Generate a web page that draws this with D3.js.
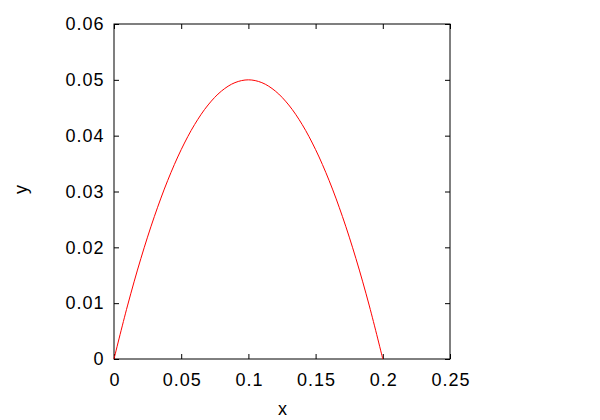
<!DOCTYPE html>
<html><head><meta charset="utf-8">
<script src="https://cdn.jsdelivr.net/npm/d3@7"></script>
<style>body{margin:0;background:#fff}svg text{font-family:"Liberation Sans",Arial,sans-serif;font-size:18px;fill:#000;letter-spacing:1px}</style>
</head><body><svg id="c" width="600" height="420"></svg>
<script>
const xValues = [0,0.01,0.02,0.03,0.04,0.05,0.06,0.07,0.08,0.09,0.10,0.11,0.12,0.13,0.14,0.15,0.16,0.17,0.18,0.19,0.20];
const yValues = [0,0.0095,0.018,0.0255,0.032,0.0375,0.042,0.0455,0.048,0.0495,0.05,0.0495,0.048,0.0455,0.042,0.0375,0.032,0.0255,0.018,0.0095,0];
const xTicks = [0,0.05,0.1,0.15,0.2,0.25];
const xTickLabels = ["0","0.05","0.1","0.15","0.2","0.25"];
const yTicks = [0,0.01,0.02,0.03,0.04,0.05,0.06];
const yTickLabels = ["0","0.01","0.02","0.03","0.04","0.05","0.06"];

const L=114,R=450,T=24,B=359;
const svg=d3.select("#c");
const x=d3.scaleLinear().domain([0,0.25]).range([L,R]);
const y=d3.scaleLinear().domain([0,0.06]).range([B,T]);

const gxB=svg.append("g").attr("transform",`translate(0,${B})`)
  .call(d3.axisBottom(x).tickValues(xTicks).tickSize(-5).tickPadding(14).tickFormat((d,i)=>xTickLabels[i]));
const gxT=svg.append("g").attr("transform",`translate(0,${T})`)
  .call(d3.axisTop(x).tickValues(xTicks).tickSize(-5).tickFormat(""));
const gyL=svg.append("g").attr("transform",`translate(${L},0)`)
  .call(d3.axisLeft(y).tickValues(yTicks).tickSize(-5).tickPadding(11).tickFormat((d,i)=>yTickLabels[i]));
const gyR=svg.append("g").attr("transform",`translate(${R},0)`)
  .call(d3.axisRight(y).tickValues(yTicks).tickSize(-5).tickFormat(""));
[gxB,gxT,gyL,gyR].forEach(g=>{
  g.select(".domain").remove();
  g.selectAll("line").attr("stroke","#000");
  g.selectAll("text").attr("font-family",null).attr("font-size",null);
});
gyL.selectAll("text").attr("dx","1.5");
gxB.selectAll("text").attr("dx","0.5");
svg.append("rect").attr("x",L).attr("y",T).attr("width",R-L).attr("height",B-T)
  .attr("fill","none").attr("stroke","#000").attr("stroke-width",1);

const data=xValues.map((v,i)=>[v,yValues[i]]);
svg.append("path").datum(data)
  .attr("fill","none").attr("stroke","#ff0000").attr("stroke-width",1)
  .attr("d",d3.line().x(d=>x(d[0])).y(d=>y(d[1])).curve(d3.curveCatmullRom));

svg.append("text").attr("x",283).attr("y",415).attr("text-anchor","middle").text("x");
svg.append("text").attr("transform","translate(27,189) rotate(-90)").attr("text-anchor","middle").text("y");
</script></body></html>
